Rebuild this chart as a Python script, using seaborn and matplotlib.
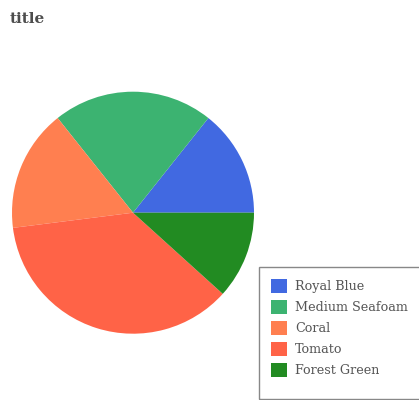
import matplotlib
matplotlib.use("Agg")
import matplotlib.pyplot as plt
import seaborn as sns
from matplotlib.patches import Rectangle, Patch

sns.set_theme(style="white")
plt.rcParams['font.family'] = ['DejaVu Serif']

categories = ["Royal Blue", "Medium Seafoam", "Coral", "Tomato", "Forest Green"]
values = [14.3, 21.4, 16.3, 36.3, 11.7]
colors = ["#4169E1", "#3CB371", "#FF7F50", "#FF6347", "#228B22"]

W, H = 419, 400
fig = plt.figure(figsize=(W / 100, H / 100), dpi=100)

cx, cy, r = 133, 212.7, 121
ax = fig.add_axes([(cx - r) / W, (H - cy - r) / H, 2 * r / W, 2 * r / H])
ax.pie(values, colors=colors, startangle=0, counterclock=True, radius=1,
       wedgeprops=dict(linewidth=0))
ax.set_xlim(-1, 1)
ax.set_ylim(-1, 1)
ax.set_aspect('equal')
ax.axis('off')

fig.text(10 / W, 1 - 23 / H, "title", fontsize=11, fontweight='bold',
         color='#4d4d4d', ha='left', va='baseline')

# legend frame
fig.patches.append(Rectangle((259 / W, 1 - 399 / H), 200 / W, 132 / H,
                             transform=fig.transFigure, fill=False,
                             edgecolor='#888888', linewidth=1, clip_on=False))

fs = 9.2
fpx = fs * 100 / 72
handles = [Patch(facecolor=c, edgecolor='none') for c in colors]
leg = fig.legend(handles, categories, loc='upper left',
                 bbox_to_anchor=(271 / W, 1 - 279 / H), frameon=False,
                 fontsize=fs, handlelength=16 / fpx, handleheight=16 / fpx,
                 handletextpad=8 / fpx, labelspacing=7 / fpx, borderpad=0,
                 borderaxespad=0, labelcolor='#555555')

fig.savefig("out.png", dpi=100)
